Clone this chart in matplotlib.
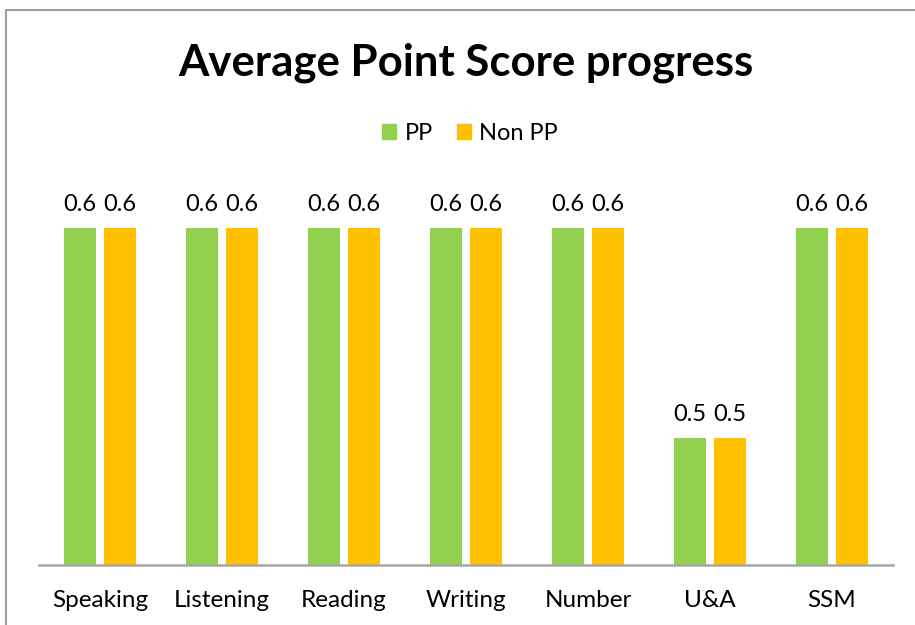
import matplotlib.pyplot as plt
from matplotlib.patches import Rectangle, Patch
import numpy as np

categories = ["Speaking", "Listening", "Reading", "Writing", "Number", "U&A", "SSM"]
pp_values = [0.6, 0.6, 0.6, 0.6, 0.6, 0.5, 0.6]
non_pp_values = [0.6, 0.6, 0.6, 0.6, 0.6, 0.5, 0.6]

GREEN, ORANGE = "#92D050", "#FFC000"
plt.rcParams["font.family"] = ["Lato", "DejaVu Sans"]

fig = plt.figure(figsize=(9.15, 6.25), dpi=100)
# chart frame (cut off at right/bottom like the screenshot)
fig.patches.append(Rectangle((6 / 915, -0.1), 1.2, 1 - 10 / 625 + 0.1,
                             transform=fig.transFigure, fill=False,
                             edgecolor="#A0A0A0", lw=1.5))

ax = fig.add_axes([39 / 915, 60 / 625, 854 / 915, 390 / 625])
x = np.arange(len(categories))
w = 0.262
b1 = ax.bar(x - 0.164, pp_values, w, color=GREEN, label="PP")
b2 = ax.bar(x + 0.164, non_pp_values, w, color=ORANGE, label="Non PP")
for bars in (b1, b2):
    ax.bar_label(bars, fmt="%.1f", padding=9, fontsize=17)

ax.set_xlim(-0.5, len(categories) - 0.5)
ax.set_ylim(0.4395, 0.625)
ax.set_yticks([])
ax.set_xticks(x, categories, fontsize=17.5)
ax.tick_params(axis="x", length=0, pad=18)
for s in ("top", "right", "left"):
    ax.spines[s].set_visible(False)
ax.spines["bottom"].set_color("#A6A6A6")
ax.spines["bottom"].set_linewidth(1.8)

fig.text(466 / 915, 1 - 63 / 625, "Average Point Score progress",
         ha="center", va="center", fontsize=31.5, fontweight="bold")
fig.legend(handles=[Patch(color=GREEN, label="PP"), Patch(color=ORANGE, label="Non PP")],
           loc="center", bbox_to_anchor=(470 / 915, 1 - 133 / 625), ncol=2,
           frameon=False, fontsize=17, handlelength=0.6, handleheight=0.6,
           handletextpad=0.35, columnspacing=1.0)

fig.savefig("out.png", dpi=100)
